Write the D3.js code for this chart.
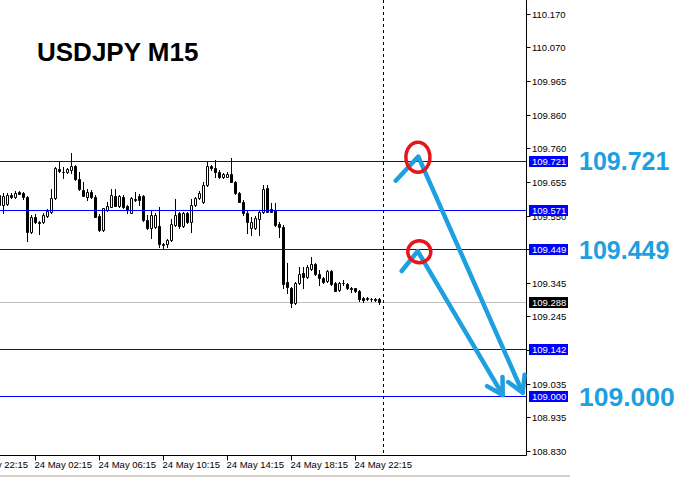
<!DOCTYPE html>
<html>
<head>
<meta charset="utf-8">
<script src="https://cdn.jsdelivr.net/npm/d3@7"></script>
<style>
  body { margin: 0; background: #fff; }
  svg { display: block; }
</style>
</head>
<body>
<script>
// USDJPY M15 candles, 24 May (bar 9 = 02:15)
const barOpen = [109.617,109.586,109.589,109.617,109.611,109.626,109.623,109.611,109.504,109.550,
  109.534,109.534,109.553,109.565,109.608,109.698,109.689,109.687,109.694,109.706,
  109.666,109.632,109.612,109.627,109.612,109.553,109.510,109.571,109.581,109.615,
  109.583,109.612,109.583,109.563,109.604,109.614,109.614,109.540,109.517,109.519,
  109.522,109.466,109.466,109.479,109.525,109.561,109.522,109.561,109.535,109.586,
  109.607,109.596,109.648,109.706,109.699,109.688,109.673,109.673,109.681,109.658,
  109.622,109.596,109.561,109.515,109.515,109.543,109.566,109.638,109.573,109.571,
  109.528,109.520,109.351,109.331,109.287,109.346,109.377,109.365,109.391,109.405,
  109.374,109.362,109.354,109.384,109.346,109.326,109.348,109.343,109.333,109.331,
  109.324,109.300,109.300,109.298,109.297,109.297]
const barHigh = [109.623,109.623,109.623,109.623,109.629,109.629,109.626,109.613,109.556,109.559,
  109.537,109.562,109.574,109.635,109.703,109.719,109.704,109.700,109.745,109.709,
  109.688,109.657,109.635,109.632,109.617,109.559,109.577,109.596,109.635,109.635,
  109.617,109.617,109.586,109.611,109.627,109.619,109.617,109.556,109.571,109.562,
  109.581,109.469,109.482,109.543,109.604,109.566,109.565,109.565,109.604,109.612,
  109.629,109.658,109.719,109.709,109.724,109.694,109.684,109.688,109.730,109.660,
  109.626,109.602,109.568,109.551,109.553,109.571,109.648,109.648,109.592,109.594,
  109.535,109.525,109.408,109.335,109.350,109.397,109.397,109.402,109.427,109.409,
  109.387,109.366,109.387,109.386,109.350,109.350,109.356,109.346,109.336,109.333,
  109.326,109.305,109.305,109.302,109.302,109.300]
const barLow = [109.580,109.562,109.586,109.608,109.608,109.620,109.605,109.476,109.501,109.531,
  109.497,109.531,109.550,109.562,109.605,109.688,109.668,109.684,109.684,109.663,
  109.632,109.614,109.602,109.608,109.550,109.507,109.507,109.568,109.580,109.583,
  109.580,109.577,109.561,109.562,109.600,109.586,109.537,109.513,109.484,109.516,
  109.459,109.455,109.459,109.476,109.522,109.515,109.519,109.531,109.505,109.583,
  109.605,109.592,109.645,109.694,109.673,109.669,109.669,109.671,109.657,109.620,
  109.596,109.556,109.500,109.494,109.513,109.494,109.562,109.565,109.565,109.522,
  109.488,109.331,109.316,109.274,109.283,109.344,109.331,109.363,109.388,109.372,
  109.341,109.347,109.350,109.341,109.322,109.322,109.341,109.329,109.320,109.321,
  109.293,109.290,109.294,109.293,109.293,109.283]
const barClose = [109.586,109.614,109.617,109.611,109.623,109.621,109.611,109.504,109.550,109.534,
  109.531,109.556,109.568,109.608,109.700,109.692,109.688,109.696,109.706,109.666,
  109.635,109.615,109.627,109.612,109.551,109.510,109.576,109.583,109.617,109.584,
  109.615,109.581,109.571,109.607,109.601,109.602,109.540,109.517,109.556,109.556,
  109.466,109.464,109.479,109.528,109.556,109.522,109.561,109.535,109.586,109.607,
  109.622,109.648,109.706,109.699,109.688,109.673,109.681,109.681,109.658,109.622,
  109.597,109.561,109.535,109.535,109.546,109.566,109.635,109.566,109.566,109.525,
  109.518,109.344,109.334,109.285,109.346,109.374,109.365,109.397,109.405,109.374,
  109.362,109.351,109.384,109.343,109.324,109.346,109.347,109.331,109.328,109.324,
  109.298,109.295,109.299,109.297,109.296,109.288]

const xTickBars = [-7, 9, 25, 41, 57, 73, 89]
const xTickLabels = ["23 May 22:15","24 May 02:15","24 May 06:15","24 May 10:15","24 May 14:15","24 May 18:15","24 May 22:15"]
const yTickValues = [110.170, 110.070, 109.965, 109.860, 109.760, 109.655, 109.550, 109.450,
  109.345, 109.245, 109.140, 109.035, 108.935, 108.830]
const yTickLabels = ["110.170","110.070","109.965","109.860","109.760","109.655","109.550","109.450",
  "109.345","109.245","109.140","109.035","108.935","108.830"]

const levelPrices = [109.721, 109.571, 109.449, 109.142, 109.000]
const bidPrice = 109.288
const currentBar = 96

// hand-drawn annotations, in (bar, price)
const arrowUpper = [[99.05, 109.661], [104.7, 109.735], [130.8, 109.011]]
const arrowLower = [[100.55, 109.384], [104.55, 109.445], [125.8, 109.004]]
const circleBars = [104.6, 104.95]
const circlePrices = [109.733, 109.443]
const bigLabels = ["109.721", "109.449", "109.000"]
const bigLabelPrices = [109.721, 109.449, 109.000]

const width = 699
const height = 477
const axisX = 526.5
const axisY = 455.5

const svg = d3.select("body").append("svg")
    .attr("width", width)
    .attr("height", height)
    .style("font-family", "'Liberation Sans', Arial, sans-serif")

svg.append("rect").attr("width", width).attr("height", height).attr("fill", "#fff")

const x = d3.scaleLinear().domain([0, 96]).range([-0.5, 383.5])
const y = d3.scaleLinear().domain([108.830, 110.170]).range([451.7, 14.7])
const px = v => Math.floor(v) + 0.5

// bid line (behind candles)
svg.append("line")
    .attr("x1", 0).attr("x2", axisX)
    .attr("y1", px(y(bidPrice))).attr("y2", px(y(bidPrice)))
    .attr("stroke", "#c0c0c0")

// candles
const candles = svg.append("g")
    .selectAll("g")
    .data(d3.range(barOpen.length))
    .join("g")

candles.append("line")
    .attr("x1", i => px(x(i))).attr("x2", i => px(x(i)))
    .attr("y1", i => Math.round(y(barHigh[i])))
    .attr("y2", i => Math.round(y(barLow[i])) + 1)
    .attr("stroke", "#000")

candles.append("path")
    .attr("d", i => {
        const cx = px(x(i))
        const t = Math.round(y(Math.max(barOpen[i], barClose[i]))) + 0.5
        const b = Math.round(y(Math.min(barOpen[i], barClose[i]))) + 0.5
        return `M${cx-1},${t}H${cx+1}V${b}H${cx-1}Z`
    })
    .attr("fill", i => barClose[i] >= barOpen[i] ? "#fff" : "#000")
    .attr("stroke", "#000")

// horizontal levels
svg.append("g").selectAll("line")
    .data(levelPrices)
    .join("line")
    .attr("x1", 0).attr("x2", axisX)
    .attr("y1", d => px(y(d))).attr("y2", d => px(y(d)))
    .attr("stroke", "#0000ff")

// current bar separator
svg.append("line")
    .attr("x1", px(x(currentBar))).attr("x2", px(x(currentBar)))
    .attr("y1", 0).attr("y2", axisY)
    .attr("stroke", "#000")
    .attr("stroke-dasharray", "3,3")

// axes
svg.append("line").attr("x1", axisX).attr("x2", axisX).attr("y1", 0).attr("y2", axisY).attr("stroke", "#000")
svg.append("line").attr("x1", 0).attr("x2", axisX).attr("y1", axisY).attr("y2", axisY).attr("stroke", "#000")

const yt = svg.append("g").selectAll("g")
    .data(yTickValues)
    .join("g")
    .attr("transform", d => `translate(0,${px(y(d))})`)
yt.append("line").attr("x1", axisX).attr("x2", axisX + 4).attr("stroke", "#000")
yt.append("text")
    .attr("x", 532)
    .attr("dy", "0.35em")
    .style("font-size", "9.5px")
    .text((d, i) => yTickLabels[i])

const xt = svg.append("g").selectAll("g")
    .data(xTickBars)
    .join("g")
    .attr("transform", d => `translate(${px(x(d))},0)`)
xt.append("line").attr("y1", axisY).attr("y2", axisY + 5).attr("stroke", "#000")
xt.append("text")
    .attr("x", -1)
    .attr("y", 468)
    .style("font-size", "9.5px")
    .text((d, i) => xTickLabels[i])

// price tags on the axis
const tags = levelPrices.map(p => ({p, bg: "#0000ff"})).concat([{p: bidPrice, bg: "#000"}])
const tag = svg.append("g").selectAll("g")
    .data(tags)
    .join("g")
    .attr("transform", d => `translate(529,${px(y(d.p))})`)
tag.append("rect")
    .attr("y", -5.5).attr("width", 39).attr("height", 11)
    .attr("fill", d => d.bg)
tag.append("text")
    .attr("x", 3)
    .attr("dy", "0.35em")
    .attr("fill", "#fff")
    .style("font-size", "9.5px")
    .text(d => d.p.toFixed(3))

// bottom border
svg.append("rect").attr("x", 0).attr("y", 475).attr("width", 570).attr("height", 2).attr("fill", "#d4d0c8")

// title
svg.append("text")
    .attr("x", 37).attr("y", 61)
    .style("font-size", "26px")
    .style("font-weight", "bold")
    .text("USDJPY M15")

// annotations
const blue = "#1e9fe0"
const line = d3.line().x(d => x(d[0])).y(d => y(d[1]))
const ann = svg.append("g")

;[arrowUpper, arrowLower].forEach(pts => {
    ann.append("path")
        .attr("d", line(pts))
        .attr("fill", "none")
        .attr("stroke", blue)
        .attr("stroke-width", 4.5)
        .attr("stroke-linecap", "round")
        .attr("stroke-linejoin", "round")
    // open arrowhead
    const a = pts[pts.length - 2], b = pts[pts.length - 1]
    const tx = x(b[0]), ty = y(b[1])
    const ang = Math.atan2(ty - y(a[1]), tx - x(a[0]))
    const len = 18, spread = Math.PI / 6
    const barbs = [ang + Math.PI - spread, ang + Math.PI + spread].map(t =>
        `M${tx + len*Math.cos(t)},${ty + len*Math.sin(t)}L${tx},${ty}`).join("")
    ann.append("path")
        .attr("d", barbs)
        .attr("fill", "none")
        .attr("stroke", blue)
        .attr("stroke-width", 4.5)
        .attr("stroke-linecap", "round")
        .attr("stroke-linejoin", "round")
})

ann.selectAll("ellipse")
    .data(circleBars)
    .join("ellipse")
    .attr("cx", d => x(d))
    .attr("cy", (d, i) => y(circlePrices[i]))
    .attr("rx", (d, i) => i ? 11.5 : 12)
    .attr("ry", (d, i) => i ? 11 : 15)
    .attr("fill", "none")
    .attr("stroke", "#e8141c")
    .attr("stroke-width", 3.5)

ann.selectAll("text")
    .data(bigLabels)
    .join("text")
    .attr("x", 579)
    .attr("y", (d, i) => y(bigLabelPrices[i]))
    .attr("dy", "0.36em")
    .attr("fill", blue)
    .style("font-size", (d, i) => i == 2 ? "26.5px" : "25px")
    .style("font-weight", "bold")
    .text(d => d)
</script>
</body>
</html>
